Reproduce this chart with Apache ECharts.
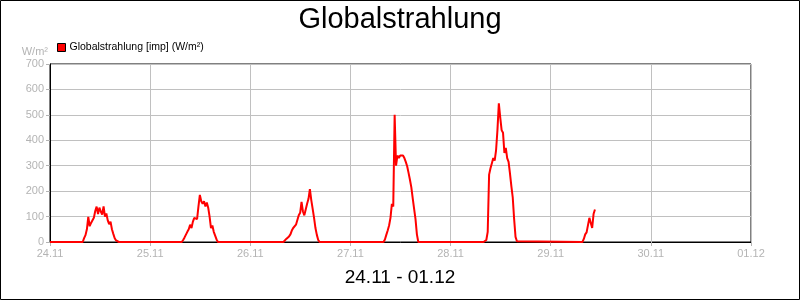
<!DOCTYPE html>
<html>
<head>
<meta charset="utf-8">
<script src="https://cdn.jsdelivr.net/npm/echarts@6/dist/echarts.min.js"></script>
<style>
html,body{margin:0;padding:0;background:#fff;}
#chart{width:800px;height:300px;}
</style>
</head>
<body>
<div id="chart"></div>
<script>
// ---- data ----
const titleText = 'Globalstrahlung';
const subtitleText = '24.11 - 01.12';
const seriesName = 'Globalstrahlung [imp] (W/m²)';
const unitLabel = 'W/m²';
const xTickLabels = ['24.11', '25.11', '26.11', '27.11', '28.11', '29.11', '30.11', '01.12'];
const yTicks = [0, 100, 200, 300, 400, 500, 600, 700];
// sampling step: 20 minutes; start = hour of day of first sample (value 0)
const stepHours = 1 / 3;
const dayStartHours = [7.84, 7.58, 7.95, 7.93, 7.90, 7.60];
const day1 = [0, 15, 27, 50, 99, 62, 75, 70, 95, 122, 139, 110, 135, 120, 108, 140, 100, 112, 85, 70, 80, 50, 32, 15, 6, 2, 0];
const day2 = [0, 8, 18, 25, 40, 50, 68, 55, 80, 95, 100, 90, 140, 185, 160, 150, 160, 140, 155, 135, 100, 55, 65, 40, 25, 10, 0];
const day3 = [0, 5, 12, 18, 22, 30, 45, 55, 50, 68, 65, 105, 115, 158, 120, 105, 100, 150, 170, 208, 165, 130, 95, 55, 28, 8, 0];
const day4 = [0, 10, 28, 45, 65, 95, 150, 140, 500, 300, 340, 330, 340, 345, 340, 330, 315, 298, 272, 245, 215, 172, 130, 90, 30, 0];
const day5 = [0, 3, 8, 40, 265, 290, 310, 330, 320, 360, 440, 545, 490, 440, 430, 350, 370, 330, 315, 270, 220, 175, 90, 20, 3, 0];
const day6 = [0, 12, 30, 38, 42, 95, 75, 55, 110, 128];
const days = [day1, day2, day3, day4, day5, day6];

// ---- build series data ----
const seriesData = [[0, 0]];
days.forEach((vals, d) => {
  vals.forEach((v, k) => {
    seriesData.push([24 * d + dayStartHours[d] + k * stepHours, v]);
  });
});

const font = '"Liberation Sans", Arial, sans-serif';
const gray = '#b4b4b4';
const gridGray = '#c0c0c0';

const chart = echarts.init(document.getElementById('chart'), null, {renderer: 'canvas'});
chart.setOption({
  animation: false,
  backgroundColor: '#ffffff',
  textStyle: {fontFamily: font},
  title: [
    {text: titleText, left: 'center', top: 0,
     textStyle: {fontFamily: font, fontSize: 29, fontWeight: 'normal', color: '#000'}},
    {text: subtitleText, left: 'center', top: 263,
     textStyle: {fontFamily: font, fontSize: 19, fontWeight: 'normal', color: '#000'}}
  ],
  legend: {
    left: 52, top: 37,
    icon: 'rect', itemWidth: 8, itemHeight: 8, itemGap: 10,
    itemStyle: {color: '#ff0000', borderColor: '#000', borderWidth: 1},
    textStyle: {fontFamily: font, fontSize: 10.5, color: '#000', padding: [0, 0, 0, -1]},
    data: [seriesName]
  },
  grid: {left: 50, right: 49, top: 64, bottom: 58, show: true, borderColor: '#000', borderWidth: 1, backgroundColor: 'transparent'},
  xAxis: {
    type: 'value', min: 0, max: 168, interval: 24,
    axisLine: {show: true, lineStyle: {color: '#000', width: 1}},
    axisTick: {show: true, length: 4, lineStyle: {color: gray}},
    axisLabel: {color: gray, fontSize: 11, fontFamily: font, margin: 6,
      formatter: (v) => xTickLabels[Math.round(v / 24)]},
    splitLine: {show: true, lineStyle: {color: gridGray, width: 1}}
  },
  yAxis: {
    type: 'value', min: yTicks[0], max: yTicks[yTicks.length - 1], interval: 100,
    name: unitLabel, nameLocation: 'end', nameGap: 7,
    nameTextStyle: {color: gray, fontSize: 11, fontFamily: font, align: 'right', padding: [0, 2, 0, 0]},
    axisLine: {show: true, lineStyle: {color: '#000', width: 1}},
    axisTick: {show: true, length: 4, lineStyle: {color: gray}},
    axisLabel: {color: gray, fontSize: 11, fontFamily: font, margin: 6},
    splitLine: {show: true, lineStyle: {color: gridGray, width: 1}}
  },
  series: [{
    name: seriesName, type: 'line', data: seriesData,
    showSymbol: false, symbol: 'none',
    lineStyle: {color: '#ff0000', width: 2},
    itemStyle: {color: '#ff0000'},
    z: 3
  }],
  graphic: [{
    type: 'rect', silent: true, z: 100,
    shape: {x: 0.5, y: 0.5, width: 799, height: 299},
    style: {fill: 'none', stroke: '#000', lineWidth: 1}
  }]
});
</script>
</body>
</html>
